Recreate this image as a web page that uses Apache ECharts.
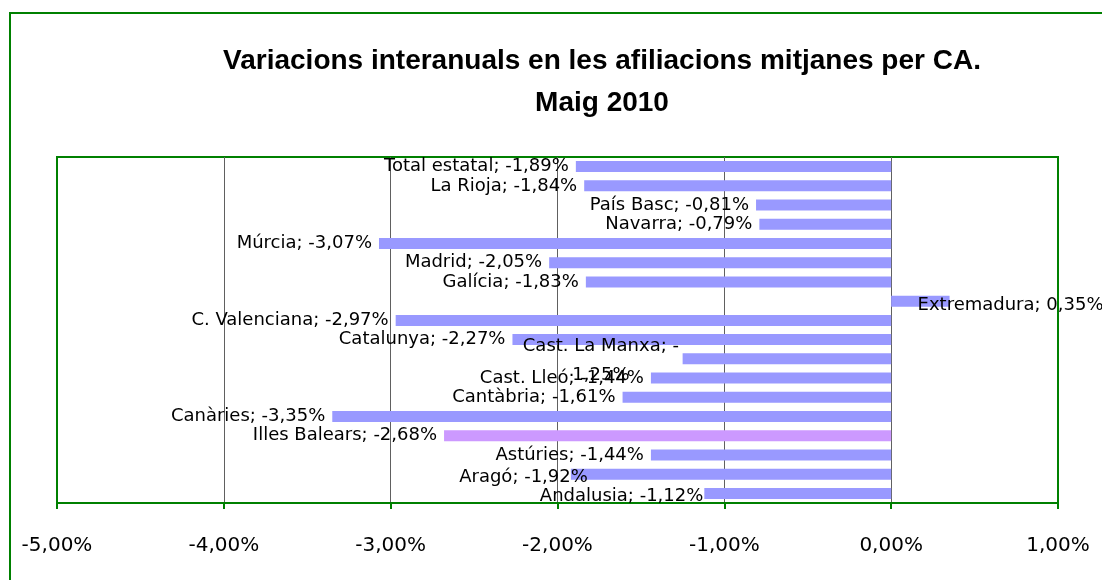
<!DOCTYPE html>
<html>
<head>
<meta charset="utf-8">
<script src="https://cdn.jsdelivr.net/npm/echarts@6/dist/echarts.min.js"></script>
<style>
  html, body { margin: 0; padding: 0; background: #fff; }
  #chart { width: 1102px; height: 580px; }
</style>
</head>
<body>
<div id="chart"></div>
<script>
// regions, bottom to top as drawn
const regions = [
  'Andalusia', 'Aragó', 'Astúries', 'Illes Balears', 'Canàries', 'Cantàbria',
  'Cast. Lleó', 'Cast. La Manxa', 'Catalunya', 'C. Valenciana', 'Extremadura',
  'Galícia', 'Madrid', 'Múrcia', 'Navarra', 'País Basc', 'La Rioja', 'Total estatal'
];
const variations = [
  -1.12, -1.92, -1.44, -2.68, -3.35, -1.61,
  -1.44, -1.25, -2.27, -2.97, 0.35,
  -1.83, -2.05, -3.07, -0.79, -0.81, -1.84, -1.89
];
const xTicks = [-5, -4, -3, -2, -1, 0, 1];

const fmt = v => v.toFixed(2).replace('.', ',') + '%';
const green = '#008000';
const labelFont = 'DejaVu Sans';

const barData = regions.map((name, i) => {
  const item = { value: variations[i], name: name };
  if (name === 'Illes Balears') item.itemStyle = { color: '#CC99FF' };
  if (name === 'Extremadura') item.label = { position: 'right', offset: [-39, 4] };
  if (name === 'Aragó') item.label = { offset: [24, 3] };
  if (name === 'Andalusia') item.label = { offset: [6, 3] };
  if (name === 'Cast. La Manxa') {
    item.label = {
      position: 'inside',
      offset: [-186, 2],
      align: 'center',
      lineHeight: 29,
      formatter: 'Cast. La Manxa; -\n1,25%'
    };
  }
  return item;
});

const chart = echarts.init(document.getElementById('chart'));
chart.setOption({
  animation: false,
  title: {
    text: 'Variacions interanuals en les afiliacions mitjanes per CA.\nMaig 2010',
    left: 597,
    top: 35,
    textAlign: 'center',
    textStyle: {
      fontFamily: 'Liberation Sans',
      fontWeight: 'bold',
      fontSize: 28,
      lineHeight: 42,
      color: '#000'
    }
  },
  graphic: [{
    type: 'rect',
    shape: { x: 10, y: 13, width: 1200, height: 700 },
    style: { fill: 'none', stroke: green, lineWidth: 2 },
    silent: true
  }],
  grid: {
    left: 57, right: 44, top: 157, bottom: 77,
    show: true, borderColor: green, borderWidth: 2
  },
  xAxis: {
    type: 'value',
    min: xTicks[0],
    max: xTicks[xTicks.length - 1],
    interval: 1,
    axisLine: { show: true, lineStyle: { color: green, width: 2 } },
    axisTick: { show: true, inside: false, length: 6, lineStyle: { color: green, width: 2 } },
    axisLabel: {
      margin: 33,
      fontFamily: labelFont,
      fontSize: 20,
      color: '#000',
      formatter: v => fmt(v)
    },
    splitLine: {
      show: true,
      showMinLine: false,
      showMaxLine: false,
      lineStyle: { color: '#606060', width: 1 }
    }
  },
  yAxis: {
    type: 'category',
    data: regions,
    show: false
  },
  series: [{
    type: 'bar',
    data: barData,
    barWidth: 11,
    itemStyle: { color: '#9999FF' },
    label: {
      show: true,
      position: 'left',
      distance: 7,
      fontFamily: labelFont,
      fontSize: 18,
      color: '#000',
      formatter: p => p.name + '; ' + fmt(p.value)
    }
  }]
});
</script>
</body>
</html>
